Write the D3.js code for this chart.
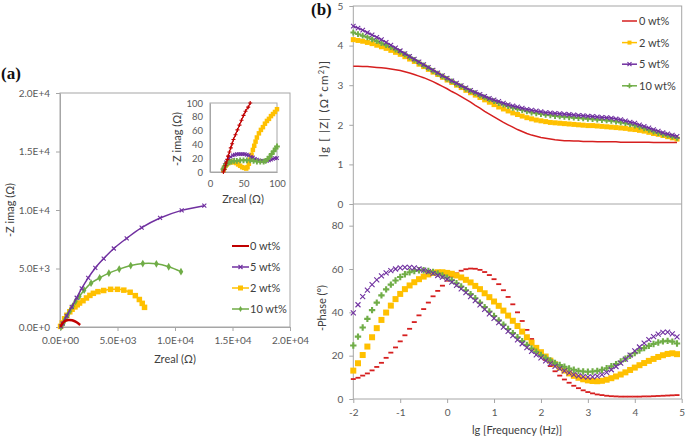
<!DOCTYPE html>
<html><head><meta charset="utf-8">
<script src="https://cdn.jsdelivr.net/npm/d3@7"></script>
<style>
body{margin:0;background:#fff}
svg{font-family:Lato,"Open Sans",sans-serif}
</style></head>
<body><svg id="c" width="685" height="437"></svg>
<script>
// ---------- DATA ----------
const seriesNames = ["0 wt%", "2 wt%", "5 wt%", "10 wt%"];
const legendOrderA = ["0 wt%", "5 wt%", "2 wt%", "10 wt%"];

// Panel (a) Nyquist: [Zreal, -Zimag] in ohm
const nyq0 = [[50,0],[200,300],[450,520],[750,600],[1050,570],[1350,450],[1600,300],[1750,170]];
const nyq2 = [[50,50],[200,350],[400,700],[600,1000],[850,1300],[1050,1520],[1300,1720],[1500,1900],[1700,2050],[2000,2250],[2300,2480],[2600,2700],[2900,2880],[3300,3020],[3800,3120],[4400,3220],[5000,3220],[5550,3150],[6100,2970],[6550,2680],[6900,2350],[7150,2020],[7350,1680]];
const nyq5 = [[100,50],[230,300],[580,950],[1020,1720],[1450,2500],[1890,3300],[2450,4200],[3070,5050],[3800,5850],[4680,6710],[5800,7580],[7100,8490],[8700,9320],[10580,9970],[12550,10370]];
const nyq10 = [[100,20],[300,350],[450,650],[650,1000],[850,1350],[1100,1780],[1350,2200],[1680,2620],[2100,3150],[2700,3750],[3450,4200],[4250,4600],[5150,4950],[6150,5250],[7200,5420],[8380,5400],[9450,5150],[10520,4730]];

// Inset (high-frequency zoom)
const ins0 = [[20,0],[22,4],[23,9],[24,13],[26,18],[27,23],[29,29],[31,35],[33,41],[35,47],[38,54],[41,61],[44,68],[47,75],[50,82],[53,88],[57,94],[60,100]];
const ins2 = [[20,3],[21,6],[23,9],[25,11],[27,13],[30,14],[33,15],[36,14],[39,13],[42,11],[45,9],[48,7],[51,6],[54,5],[56,7],[58,12],[60,18],[62,25],[64,32],[66,38],[68,44],[70,50],[73,56],[76,61],[79,65],[82,70],[85,74],[88,77],[91,81],[94,84],[97,87],[100,91]];
const ins5 = [[20,4],[22,10],[24,14],[26,17],[28,20],[31,22],[34,24],[37,25],[40,26],[43,26],[46,26],[49,26],[52,26],[55,25],[58,24],[61,22],[64,21],[67,19],[70,18],[73,17],[76,16],[79,16],[82,16],[85,16],[88,17],[91,18],[94,19],[97,20],[100,20]];
const ins10 = [[20,4],[22,8],[24,11],[26,13],[29,14],[32,15],[36,16],[40,16],[45,17],[50,17],[55,17],[60,17],[65,16],[70,15],[75,15],[80,15],[83,16],[86,19],[89,22],[92,26],[95,30],[98,34],[100,37]];

// Panel (b) Bode
const lgFreq = [-2,-1.9,-1.8,-1.7,-1.6,-1.5,-1.4,-1.3,-1.2,-1.1,-1,-0.9,-0.8,-0.7,-0.6,-0.5,-0.4,-0.3,-0.2,-0.1,0,0.1,0.2,0.3,0.4,0.5,0.6,0.7,0.8,0.9,1,1.1,1.2,1.3,1.4,1.5,1.6,1.7,1.8,1.9,2,2.1,2.2,2.3,2.4,2.5,2.6,2.7,2.8,2.9,3,3.1,3.2,3.3,3.4,3.5,3.6,3.7,3.8,3.9,4,4.1,4.2,4.3,4.4,4.5,4.6,4.7,4.8,4.9];

const lgZ0 = [3.48,3.48,3.47,3.47,3.46,3.45,3.44,3.43,3.41,3.39,3.37,3.34,3.31,3.27,3.23,3.19,3.14,3.09,3.03,2.97,2.91,2.84,2.78,2.71,2.64,2.57,2.49,2.42,2.34,2.27,2.20,2.13,2.06,2.00,1.94,1.88,1.83,1.78,1.74,1.71,1.68,1.66,1.64,1.62,1.61,1.60,1.60,1.59,1.59,1.58,1.58,1.58,1.57,1.57,1.57,1.57,1.57,1.56,1.56,1.56,1.56,1.56,1.56,1.56,1.55,1.55,1.55,1.55,1.55,1.55];
const lgZ2 = [4.15,4.13,4.11,4.08,4.05,4.01,3.97,3.93,3.88,3.83,3.78,3.72,3.66,3.60,3.53,3.47,3.40,3.33,3.27,3.20,3.13,3.07,3.00,2.94,2.87,2.81,2.75,2.69,2.63,2.57,2.51,2.45,2.40,2.35,2.30,2.26,2.22,2.18,2.15,2.12,2.10,2.08,2.06,2.05,2.04,2.03,2.02,2.01,2.00,1.99,1.98,1.98,1.97,1.96,1.95,1.94,1.93,1.92,1.91,1.89,1.88,1.86,1.84,1.81,1.78,1.76,1.73,1.70,1.67,1.64];
const lgZ5 = [4.49,4.44,4.39,4.33,4.27,4.21,4.15,4.08,4.01,3.94,3.87,3.80,3.73,3.66,3.59,3.52,3.45,3.38,3.31,3.24,3.18,3.11,3.05,2.99,2.93,2.87,2.82,2.77,2.72,2.67,2.63,2.59,2.55,2.51,2.48,2.45,2.42,2.39,2.37,2.35,2.33,2.31,2.30,2.29,2.28,2.27,2.26,2.25,2.24,2.23,2.22,2.21,2.20,2.19,2.18,2.17,2.15,2.13,2.10,2.07,2.04,2.00,1.96,1.92,1.88,1.84,1.80,1.77,1.74,1.71];
const lgZ10 = [4.33,4.29,4.25,4.21,4.16,4.11,4.06,4.01,3.96,3.90,3.84,3.78,3.71,3.64,3.57,3.50,3.43,3.36,3.29,3.22,3.16,3.10,3.03,2.97,2.91,2.85,2.80,2.74,2.69,2.64,2.60,2.55,2.51,2.47,2.43,2.40,2.37,2.34,2.31,2.29,2.27,2.25,2.24,2.22,2.21,2.20,2.19,2.18,2.17,2.16,2.15,2.14,2.13,2.12,2.11,2.10,2.08,2.06,2.04,2.01,1.98,1.95,1.91,1.87,1.83,1.79,1.76,1.73,1.70,1.67];

const phase0 = [9.2,9.8,10.8,11.8,13.2,14.8,16.7,19.0,21.4,23.8,26.6,29.4,32.4,35.5,38.6,41.5,44.5,47.4,49.9,52.3,54.6,56.5,58.0,59.2,59.9,60.2,60.1,59.6,58.6,57.2,55.3,53.0,50.2,47.1,43.7,40.0,36.0,31.9,27.7,24.0,21.0,18.0,15.2,12.8,10.8,9.0,7.5,6.1,5.0,4.0,3.2,2.6,2.1,1.8,1.5,1.3,1.2,1.1,1.1,1.1,1.1,1.1,1.2,1.2,1.3,1.4,1.5,1.6,1.7,1.8];
const phase2 = [13.1,16.5,20.3,24.2,28.5,32.7,36.5,39.9,43.1,46.1,48.5,50.7,52.4,53.9,55.3,56.5,57.5,58.2,58.5,58.5,58.2,57.8,57.0,56.1,55.0,53.8,52.2,50.7,48.8,47.0,45.0,43.0,40.8,38.5,36.1,33.7,31.1,28.5,26.0,23.6,21.6,19.6,17.7,16.0,14.5,13.1,11.8,10.7,9.8,9.1,8.6,8.3,8.2,8.4,8.9,9.6,10.4,11.3,12.3,13.4,14.5,15.6,16.6,17.6,18.5,19.4,20.2,20.8,21.1,20.7];
const phase5 = [39.7,43.5,47.2,50.2,52.8,55.0,56.8,58.2,59.3,60.0,60.5,60.7,60.7,60.5,60.1,59.5,58.8,58.0,57.0,56.2,55.3,53.9,52.4,50.8,49.1,47.3,45.4,43.4,41.4,39.3,37.2,35.2,33.2,31.2,29.2,27.3,25.5,23.7,22.0,20.4,19.0,17.6,16.3,15.1,14.0,13.0,12.1,11.3,10.7,10.3,10.1,10.2,10.6,11.3,12.3,13.5,15.0,16.6,18.4,20.3,22.2,24.0,25.8,27.4,28.8,29.9,30.7,30.9,30.1,28.7];
const phase10 = [24.7,28.8,33.0,37.0,41.0,44.5,47.8,50.6,52.8,54.7,56.3,57.6,58.5,59.1,59.4,59.4,59.1,58.6,57.9,57.0,56.0,54.8,53.4,51.9,50.2,48.4,46.5,44.5,42.4,40.4,38.3,36.3,34.3,32.3,30.4,28.5,26.7,25.0,23.3,21.8,20.3,19.0,17.8,16.7,15.7,14.9,14.1,13.5,13.0,12.7,12.6,12.7,13.0,13.5,14.2,15.1,16.1,17.3,18.6,19.9,21.2,22.4,23.5,24.5,25.4,26.1,26.6,26.8,26.5,25.6];

// tick labels
const nyqXTicks = [0, 5000, 10000, 15000, 20000];
const nyqXLabels = ["0.0E+00", "5.0E+03", "1.0E+04", "1.5E+04", "2.0E+04"];
const nyqYTicks = [0, 5000, 10000, 15000, 20000];
const nyqYLabels = ["0.0E+0", "5.0E+3", "1.0E+4", "1.5E+4", "2.0E+4"];
const insTicksX = [0, 50, 100];
const insTicksY = [0, 20, 40, 60, 80, 100];
const bodeXTicks = [-2, -1, 0, 1, 2, 3, 4, 5];
const lgZTicks = [0, 1, 2, 3, 4, 5];
const phaseTicks = [0, 20, 40, 60, 80];

// ---------- STYLE ----------
const col = {"0 wt%": "#c00000", "2 wt%": "#ffc000", "5 wt%": "#7030a0", "10 wt%": "#70ad47"};
const colB0 = "#d61f1f";
const axisCol = "#a6a6a6";
const txtCol = "#595959";
const intFmt = d => String(d);

const svg = d3.select("#c");

function marker(g, type, x, y, c, s) {
  if (type === "square") {
    g.append("rect").attr("x", x - s/2).attr("y", y - s/2).attr("width", s).attr("height", s).attr("fill", c);
  } else if (type === "x") {
    const h = s/2;
    g.append("path").attr("d", `M${x-h},${y-h}L${x+h},${y+h}M${x-h},${y+h}L${x+h},${y-h}`)
      .attr("stroke", c).attr("stroke-width", 1.1).attr("fill", "none");
  } else if (type === "plus") {
    const h = s/2;
    g.append("path").attr("d", `M${x-h},${y}H${x+h}M${x},${y-h}V${y+h}`).attr("stroke", c).attr("stroke-width", 1.1).attr("fill","none");
  } else if (type === "cross") {
    g.append("path").attr("transform", `translate(${x},${y})`).attr("d", d3.symbol(d3.symbolCross, s*s*0.9)()).attr("fill", c);
  } else if (type === "diamond") {
    g.append("path").attr("transform", `translate(${x},${y})`).attr("d", d3.symbol(d3.symbolDiamond, s*s*0.7)()).attr("fill", c);
  } else if (type === "dash") {
    g.append("rect").attr("x", x - s/2).attr("y", y - 0.9).attr("width", s).attr("height", 1.8).attr("fill", c);
  }
}

function styleAxis(g, fs) {
  g.select(".domain").attr("stroke", axisCol);
  g.selectAll(".tick line").attr("stroke", axisCol);
  g.selectAll(".tick text").attr("fill", txtCol).attr("font-size", fs).attr("font-family", "Lato");
}

// ================= PANEL (a) =================
const xa = d3.scaleLinear().domain([0, 20000]).range([60, 290]);
const ya = d3.scaleLinear().domain([0, 20000]).range([327, 93]);

svg.append("rect").attr("x", 60).attr("y", 93).attr("width", 230).attr("height", 234)
  .attr("fill", "none").attr("stroke", axisCol);

const gxa = svg.append("g").attr("transform", "translate(0,327)")
  .call(d3.axisBottom(xa).tickValues(nyqXTicks).tickFormat((d, i) => nyqXLabels[i]).tickSize(4).tickSizeOuter(0).tickPadding(6));
styleAxis(gxa, 10);
const gya = svg.append("g").attr("transform", "translate(60,0)")
  .call(d3.axisLeft(ya).tickValues(nyqYTicks).tickFormat((d, i) => nyqYLabels[i]).tickSize(4).tickSizeOuter(0).tickPadding(6));
styleAxis(gya, 10);

svg.append("text").attr("x", 175).attr("y", 363).attr("text-anchor", "middle").attr("font-size", 11).attr("fill", "#404040").text("Zreal (Ω)");
svg.append("text").attr("transform", "translate(14,210) rotate(-90)").attr("text-anchor", "middle").attr("font-size", 11).attr("fill", "#404040").text("-Z imag (Ω)");
svg.append("text").attr("x", 1).attr("y", 79).attr("font-family", "'Liberation Serif','Times New Roman',serif").attr("font-weight", "bold").attr("font-size", 17).attr("fill", "#111").text("(a)");

const lineA = d3.line().x(d => xa(d[0])).y(d => ya(d[1])).curve(d3.curveCatmullRom);
const nyqSeries = [
  {name: "2 wt%", data: nyq2, m: "square", s: 5.5, w: 1.5},
  {name: "10 wt%", data: nyq10, m: "diamond", s: 5, w: 1.5},
  {name: "5 wt%", data: nyq5, m: "x", s: 4, w: 1.5},
  {name: "0 wt%", data: nyq0, m: null, s: 0, w: 2.5}
];
nyqSeries.forEach(sr => {
  const g = svg.append("g");
  g.append("path").attr("d", lineA(sr.data)).attr("fill", "none").attr("stroke", col[sr.name]).attr("stroke-width", sr.w);
  if (sr.m) sr.data.forEach(d => marker(g, sr.m, xa(d[0]), ya(d[1]), col[sr.name], sr.s));
});

// legend (a)
const legA = {"0 wt%": null, "5 wt%": "x", "2 wt%": "square", "10 wt%": "diamond"};
legendOrderA.forEach((n, i) => {
  const y = 246 + i * 21;
  const g = svg.append("g");
  g.append("line").attr("x1", 232).attr("x2", 249).attr("y1", y).attr("y2", y).attr("stroke", col[n]).attr("stroke-width", n === "0 wt%" ? 2 : 1.5);
  if (legA[n]) marker(g, legA[n], 240.5, y, col[n], legA[n] === "square" ? 5 : 4);
  g.append("text").attr("x", 250).attr("y", y + 4).attr("font-size", 11).attr("fill", "#404040").text(n);
});

// inset
const xi = d3.scaleLinear().domain([0, 100]).range([210, 277]);
const yi = d3.scaleLinear().domain([0, 100]).range([172, 103]);
svg.append("rect").attr("x", 210).attr("y", 103).attr("width", 67).attr("height", 69).attr("fill", "#fff").attr("stroke", axisCol);
const gxi = svg.append("g").attr("transform", "translate(0,172)")
  .call(d3.axisBottom(xi).tickValues(insTicksX).tickFormat(intFmt).tickSize(0).tickSizeOuter(0).tickPadding(8));
styleAxis(gxi, 9.5);
const gyi = svg.append("g").attr("transform", "translate(210,0)")
  .call(d3.axisLeft(yi).tickValues(insTicksY).tickFormat(intFmt).tickSize(0).tickSizeOuter(0).tickPadding(7));
styleAxis(gyi, 9.5);
svg.append("text").attr("x", 243).attr("y", 203).attr("text-anchor", "middle").attr("font-size", 11).attr("fill", "#404040").text("Zreal (Ω)");
svg.append("text").attr("transform", "translate(181,139) rotate(-90)").attr("text-anchor", "middle").attr("font-size", 11).attr("fill", "#404040").text("-Z imag (Ω)");

const lineI = d3.line().x(d => xi(d[0])).y(d => yi(d[1]));
const insSeries = [
  {name: "2 wt%", data: ins2, m: "square", s: 4.5},
  {name: "5 wt%", data: ins5, m: "x", s: 3.5},
  {name: "10 wt%", data: ins10, m: "cross", s: 4.5},
  {name: "0 wt%", data: ins0, m: "plus", s: 4}
];
insSeries.forEach(sr => {
  const g = svg.append("g");
  g.append("path").attr("d", lineI(sr.data)).attr("fill", "none").attr("stroke", col[sr.name]).attr("stroke-width", 1.2);
  sr.data.forEach(d => marker(g, sr.m, xi(d[0]), yi(d[1]), col[sr.name], sr.s));
});

// ================= PANEL (b) =================
const xb = d3.scaleLinear().domain([-2, 5]).range([353.3, 681.7]);
const yz = d3.scaleLinear().domain([0, 5]).range([204, 6]);
const yp = d3.scaleLinear().domain([0, 90]).range([399, 204]);

svg.append("rect").attr("x", 353.3).attr("y", 6).attr("width", 328.4).attr("height", 393).attr("fill", "none").attr("stroke", axisCol);
svg.append("line").attr("x1", 353.3).attr("x2", 681.7).attr("y1", 204).attr("y2", 204).attr("stroke", axisCol);

const gyz = svg.append("g").attr("transform", "translate(353.3,0)")
  .call(d3.axisLeft(yz).tickValues(lgZTicks).tickFormat(intFmt).tickSize(4).tickSizeOuter(0).tickPadding(6));
styleAxis(gyz, 10);
const gyp = svg.append("g").attr("transform", "translate(353.3,0)")
  .call(d3.axisLeft(yp).tickValues(phaseTicks).tickFormat(intFmt).tickSize(4).tickSizeOuter(0).tickPadding(6));
styleAxis(gyp, 10);
const gxb = svg.append("g").attr("transform", "translate(0,399)")
  .call(d3.axisBottom(xb).tickValues(bodeXTicks).tickFormat(intFmt).tickSize(4).tickSizeOuter(0).tickPadding(6));
styleAxis(gxb, 10);
gxb.select(".domain").remove();
gyz.select(".domain").remove();
gyp.select(".domain").remove();

svg.append("text").attr("x", 517).attr("y", 434).attr("text-anchor", "middle").attr("font-size", 11).attr("fill", "#404040").text("lg [Frequency (Hz)]");
const zTitle = svg.append("text").attr("transform", "translate(328,109) rotate(-90)").attr("text-anchor", "middle")
  .attr("font-size", 11.5).attr("fill", "#404040").attr("textLength", 96).attr("lengthAdjust", "spacing");
zTitle.append("tspan").text("lg [ |Z| (Ω*cm");
zTitle.append("tspan").attr("dy", -4).attr("font-size", 7.5).text("2");
zTitle.append("tspan").attr("dy", 4).text(")]");
svg.append("text").attr("transform", "translate(326,308) rotate(-90)").attr("text-anchor", "middle").attr("font-size", 11).attr("fill", "#404040").text("-Phase (°)");
svg.append("text").attr("x", 311).attr("y", 15).attr("font-family", "'Liberation Serif','Times New Roman',serif").attr("font-weight", "bold").attr("font-size", 17).attr("fill", "#111").text("(b)");

const bodeMarkers = {"0 wt%": "dash", "2 wt%": "square", "5 wt%": "x", "10 wt%": "cross"};
const lgZ = {"0 wt%": lgZ0, "2 wt%": lgZ2, "5 wt%": lgZ5, "10 wt%": lgZ10};
const phase = {"0 wt%": phase0, "2 wt%": phase2, "5 wt%": phase5, "10 wt%": phase10};

// |Z| panel
const lineZ = d3.line().x((d, i) => xb(lgFreq[i])).y(d => yz(d));
["2 wt%", "10 wt%", "5 wt%"].forEach(n => {
  const g = svg.append("g");
  g.append("path").attr("d", lineZ(lgZ[n])).attr("fill", "none").attr("stroke", col[n]).attr("stroke-width", 1.5);
  lgZ[n].forEach((v, i) => marker(g, bodeMarkers[n], xb(lgFreq[i]), yz(v), col[n], n === "2 wt%" ? 5 : 4.5));
});
svg.append("path").attr("d", lineZ(lgZ0)).attr("fill", "none").attr("stroke", colB0).attr("stroke-width", 1.5);

// phase panel (markers only)
["0 wt%", "2 wt%", "10 wt%", "5 wt%"].forEach(n => {
  const g = svg.append("g");
  const c = n === "0 wt%" ? colB0 : col[n];
  const s = n === "2 wt%" ? 6 : 5;
  phase[n].forEach((v, i) => marker(g, bodeMarkers[n], xb(lgFreq[i]), yp(v), c, s));
});

// legend (b)
seriesNames.forEach((n, i) => {
  const y = 21 + i * 21.6;
  const g = svg.append("g");
  const c = n === "0 wt%" ? colB0 : col[n];
  g.append("line").attr("x1", 622).attr("x2", 637).attr("y1", y).attr("y2", y).attr("stroke", c).attr("stroke-width", 1.5);
  if (n !== "0 wt%") marker(g, bodeMarkers[n], 629.5, y, c, 4);
  g.append("text").attr("x", 639).attr("y", y + 4).attr("font-size", 11).attr("fill", "#404040").text(n);
});
</script></body></html>
